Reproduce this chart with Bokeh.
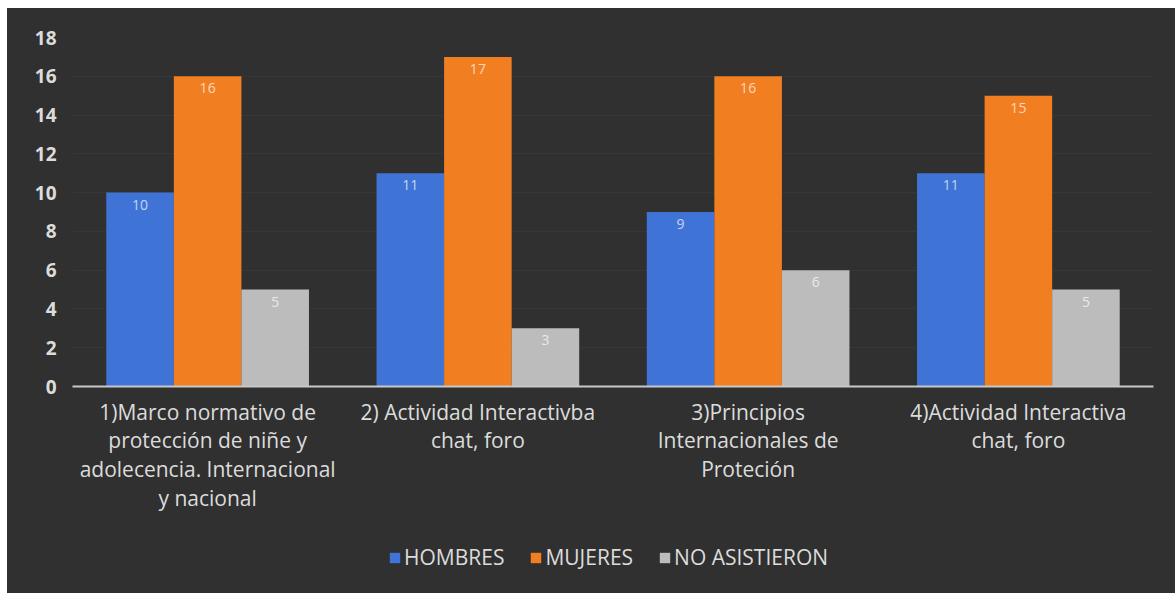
from bokeh.plotting import figure
from bokeh.models import ColumnDataSource, FactorRange, Legend, LegendItem, SingleIntervalTicker, Spacer
from bokeh.layouts import column, row
from bokeh.transform import dodge
from bokeh.core.properties import value
from bokeh.embed import file_html
from bokeh.resources import INLINE

categories = [
    "1)Marco normativo de\nprotección de niñe y\nadolecencia. Internacional\ny nacional",
    "2) Actividad Interactivba\nchat, foro",
    "3)Principios\nInternacionales de\nProteción",
    "4)Actividad Interactiva\nchat, foro",
]
hombres = [10, 11, 9, 11]
mujeres = [16, 17, 16, 15]
no_asistieron = [5, 3, 6, 5]
series_names = ["HOMBRES", "MUJERES", "NO ASISTIERON"]
y_ticks = [0, 2, 4, 6, 8, 10, 12, 14, 16, 18]

BG = "#303030"
COLORS = ["#3f74d6", "#f27e22", "#bcbcbc"]
FONT = "Open Sans"

src = ColumnDataSource(dict(
    cat=categories,
    h=hombres, m=mujeres, n=no_asistieron,
    hl=[str(v) for v in hombres], ml=[str(v) for v in mujeres], nl=[str(v) for v in no_asistieron],
))

p = figure(width=1168, height=522, x_range=FactorRange(factors=categories), y_range=(0, 18),
           output_backend="svg", toolbar_location=None,
           background_fill_color=BG, border_fill_color=BG, outline_line_color=None,
           min_border_left=65, min_border_right=22, min_border_top=29, min_border_bottom=144)

offsets = [-0.25, 0.0, 0.25]
cols = ["h", "m", "n"]
lcols = ["hl", "ml", "nl"]
for off, c, lc, color in zip(offsets, cols, lcols, COLORS):
    p.vbar(x=dodge("cat", off, range=p.x_range), top=c, width=0.25, bottom=0,
           source=src, fill_color=color, line_color=None)
    p.text(x=dodge("cat", off, range=p.x_range), y=c, text=lc, source=src,
           text_align="center", text_baseline="top", y_offset=7,
           text_font=value(FONT), text_font_size="14px", text_color="#ffffff", text_alpha=0.7)

p.xgrid.grid_line_color = None
p.ygrid.grid_line_color = "#373737"
p.ygrid.ticker = SingleIntervalTicker(interval=2)

p.yaxis.ticker = y_ticks
p.yaxis.axis_line_color = None
p.yaxis.major_tick_line_color = None
p.yaxis.minor_tick_line_color = None
p.yaxis.major_label_standoff = 10
p.yaxis.major_label_text_font = FONT
p.yaxis.major_label_text_font_size = "19px"
p.yaxis.major_label_text_font_style = "bold"
p.yaxis.major_label_text_color = "#dcdcdc"

p.xaxis.axis_line_color = "#c8c8c8"
p.xaxis.axis_line_width = 2
p.xaxis.major_tick_line_color = None
p.xaxis.minor_tick_line_color = None
p.xaxis.major_label_standoff = 5
p.xaxis.major_label_orientation = "horizontal"
p.xaxis.major_label_text_font = FONT
p.xaxis.major_label_text_font_size = "21px"
p.xaxis.major_label_text_line_height = 1.03
p.xaxis.major_label_text_color = "#dcdcdc"

# legend strip below the chart (bars drawn out of view; only their swatches show)
lg = figure(width=1168, height=63, x_range=FactorRange(factors=categories), y_range=(100, 101),
            output_backend="svg", toolbar_location=None,
            background_fill_color=BG, border_fill_color=BG, outline_line_color=None,
            min_border_left=65, min_border_right=22, min_border_top=0, min_border_bottom=0)
lg.axis.visible = False
lg.grid.visible = False
lrs = []
for off, c, color in zip(offsets, cols, COLORS):
    lrs.append(lg.vbar(x=dodge("cat", off, range=lg.x_range), top=c, width=0.25, bottom=0,
                       source=src, fill_color=color, line_color=None))

legend = Legend(items=[LegendItem(label=n, renderers=[r]) for n, r in zip(series_names, lrs)],
                orientation="horizontal", location=(316, 22),
                background_fill_alpha=0.0, border_line_color=None,
                label_text_font=FONT, label_text_font_size="21px", label_text_color="#dcdcdc",
                glyph_width=13, glyph_height=13, spacing=25, label_standoff=3, margin=0, padding=0)
lg.add_layout(legend, "center")

inner = column(p, lg, spacing=0, styles={"background-color": BG})
layout = column(Spacer(height=8), row(Spacer(width=7), inner))
open("out.html", "w").write(file_html(layout, INLINE))
